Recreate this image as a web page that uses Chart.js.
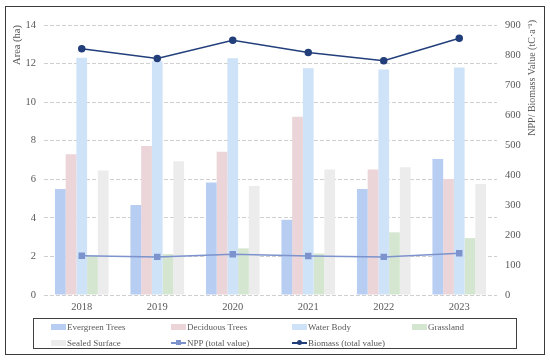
<!DOCTYPE html>
<html lang="en">
<head>
    <meta charset="UTF-8">
    <title>Area and NPP / Biomass</title>
    <script src="https://cdn.jsdelivr.net/npm/chart.js"></script>
    <style>
        body {
            margin: 0;
            background: #ffffff;
            font-family: "Liberation Serif", "Times New Roman", serif;
        }
        #wrap {
            position: relative;
            width: 550px;
            height: 361px;
        }
        #frame {
            position: absolute;
            left: 5px;
            top: 6px;
            width: 538px;
            height: 347px;
            border: 1.5px solid #3a3a3a;
            pointer-events: none;
        }
        canvas {
            position: absolute;
            left: 0;
            top: 0;
        }
        #legend {
            position: absolute;
            left: 33px;
            top: 318px;
            width: 484px;
            height: 31px;
            border: 1px solid #404040;
            display: grid;
            grid-template-columns: 120px 121px 120px 120px;
            grid-template-rows: 16px 15px;
            padding-left: 17px;
            box-sizing: border-box;
            font-size: 9px;
            color: #595959;
        }
        .item {
            display: flex;
            align-items: center;
            white-space: nowrap;
        }
        .swatch {
            display: inline-block;
            width: 15px;
            height: 6px;
            margin-right: 1px;
        }
        .lineKey {
            position: relative;
            display: inline-block;
            width: 15px;
            height: 7px;
            margin-right: 1px;
        }
        .lineKey .seg {
            position: absolute;
            left: 0;
            right: 0;
            top: 3px;
            height: 1.5px;
        }
        .lineKey .dot {
            position: absolute;
            left: 5px;
            top: 1px;
            width: 5px;
            height: 5px;
        }
    </style>
</head>
<body>
<div id="wrap">
    <canvas id="chart" width="550" height="361"></canvas>
    <div id="frame"></div>
    <div id="legend"></div>
</div>

<script>
    // datos
    const years = ['2018', '2019', '2020', '2021', '2022', '2023'];
    const evergreen = [5.5, 4.67, 5.83, 3.9, 5.5, 7.05];
    const deciduous = [7.3, 7.72, 7.43, 9.24, 6.51, 6.02];
    const waterBody = [12.3, 12.12, 12.28, 11.76, 11.69, 11.8];
    const grassland = [2.04, 2.12, 2.42, 2.15, 3.25, 2.95];
    const sealed = [6.45, 6.94, 5.65, 6.51, 6.62, 5.75];
    const npp = [131, 127, 136, 130, 127, 139];
    const biomass = [821, 788, 849, 808, 781, 856];

    const textGray = '#595959';
    const serif = '"Liberation Serif", "Times New Roman", serif';

    const barSet = (label, data, color) => ({
        type: 'bar',
        label: label,
        data: data,
        backgroundColor: color,
        yAxisID: 'y',
        order: 2
    });

    const datasets = [
        barSet('Evergreen Trees', evergreen, '#b7cdf1'),
        barSet('Deciduous Trees', deciduous, '#ebd5d8'),
        barSet('Water Body', waterBody, '#cee2f8'),
        barSet('Grassland', grassland, '#d5e6d0'),
        barSet('Sealed Surface', sealed, '#ececec'),
        {
            type: 'line',
            label: 'NPP (total value)',
            data: npp,
            borderColor: '#7c93cd',
            backgroundColor: '#7c93cd',
            borderWidth: 1.5,
            pointStyle: 'rect',
            pointRadius: 3.5,
            yAxisID: 'y1',
            order: 1
        },
        {
            type: 'line',
            label: 'Biomass (total value)',
            data: biomass,
            borderColor: '#223f7b',
            backgroundColor: '#223f7b',
            borderWidth: 1.5,
            pointStyle: 'circle',
            pointRadius: 3,
            yAxisID: 'y1',
            order: 0
        }
    ];

    // titulo del eje derecho (se lee de abajo hacia arriba)
    const rightTitle = {
        id: 'rightTitle',
        afterDraw(chart) {
            const c = chart.ctx;
            c.save();
            c.translate(532, 20);
            c.rotate(-Math.PI / 2);
            c.font = '10px ' + serif;
            c.fillStyle = textGray;
            c.textAlign = 'right';
            c.textBaseline = 'middle';
            c.fillText('NPP/ Biomass Value (tC\u00b7a\u207b\u00b9)', 0, 0);
            c.restore();
        }
    };

    const chart = new Chart(document.getElementById('chart'), {
        data: { labels: years, datasets: datasets },
        options: {
            responsive: false,
            animation: false,
            layout: { padding: { top: 25, left: 0, right: 0, bottom: 0 } },
            datasets: {
                bar: { categoryPercentage: 0.71, barPercentage: 1 }
            },
            scales: {
                x: {
                    grid: { display: false, drawTicks: false },
                    border: { display: false },
                    ticks: { color: textGray, font: { family: serif, size: 10.5 }, padding: 6 },
                    afterFit(s) { s.height = 66; }
                },
                y: {
                    position: 'left',
                    min: 0,
                    max: 14,
                    ticks: { stepSize: 2, color: textGray, font: { family: serif, size: 10.5 }, padding: 8 },
                    grid: { color: '#d0d0d0', lineWidth: 1, drawTicks: false },
                    border: { display: false, dash: [4, 2] },
                    title: {
                        display: true,
                        text: 'Area (ha)',
                        align: 'end',
                        color: textGray,
                        font: { family: serif, size: 10.5 },
                        padding: { top: 11, bottom: 0 }
                    },
                    afterFit(s) { s.width = 44; }
                },
                y1: {
                    position: 'right',
                    min: 0,
                    max: 900,
                    ticks: { stepSize: 100, color: textGray, font: { family: serif, size: 10.5 }, padding: 8 },
                    grid: { display: false, drawTicks: false },
                    border: { display: false },
                    afterFit(s) { s.width = 53; }
                }
            },
            plugins: {
                legend: { display: false },
                tooltip: { enabled: false }
            }
        },
        plugins: [rightTitle]
    });

    // leyenda en html, dos filas de cuatro
    const legend = document.getElementById('legend');
    chart.data.datasets.forEach(ds => {
        const item = document.createElement('div');
        item.className = 'item';
        let key;
        if (ds.type === 'bar') {
            key = document.createElement('span');
            key.className = 'swatch';
            key.style.background = ds.backgroundColor;
        } else {
            key = document.createElement('span');
            key.className = 'lineKey';
            const seg = document.createElement('span');
            seg.className = 'seg';
            seg.style.background = ds.borderColor;
            const dot = document.createElement('span');
            dot.className = 'dot';
            dot.style.background = ds.borderColor;
            if (ds.pointStyle === 'circle') dot.style.borderRadius = '50%';
            key.appendChild(seg);
            key.appendChild(dot);
        }
        const txt = document.createElement('span');
        txt.textContent = ds.label;
        item.appendChild(key);
        item.appendChild(txt);
        legend.appendChild(item);
    });
</script>
</body>
</html>
